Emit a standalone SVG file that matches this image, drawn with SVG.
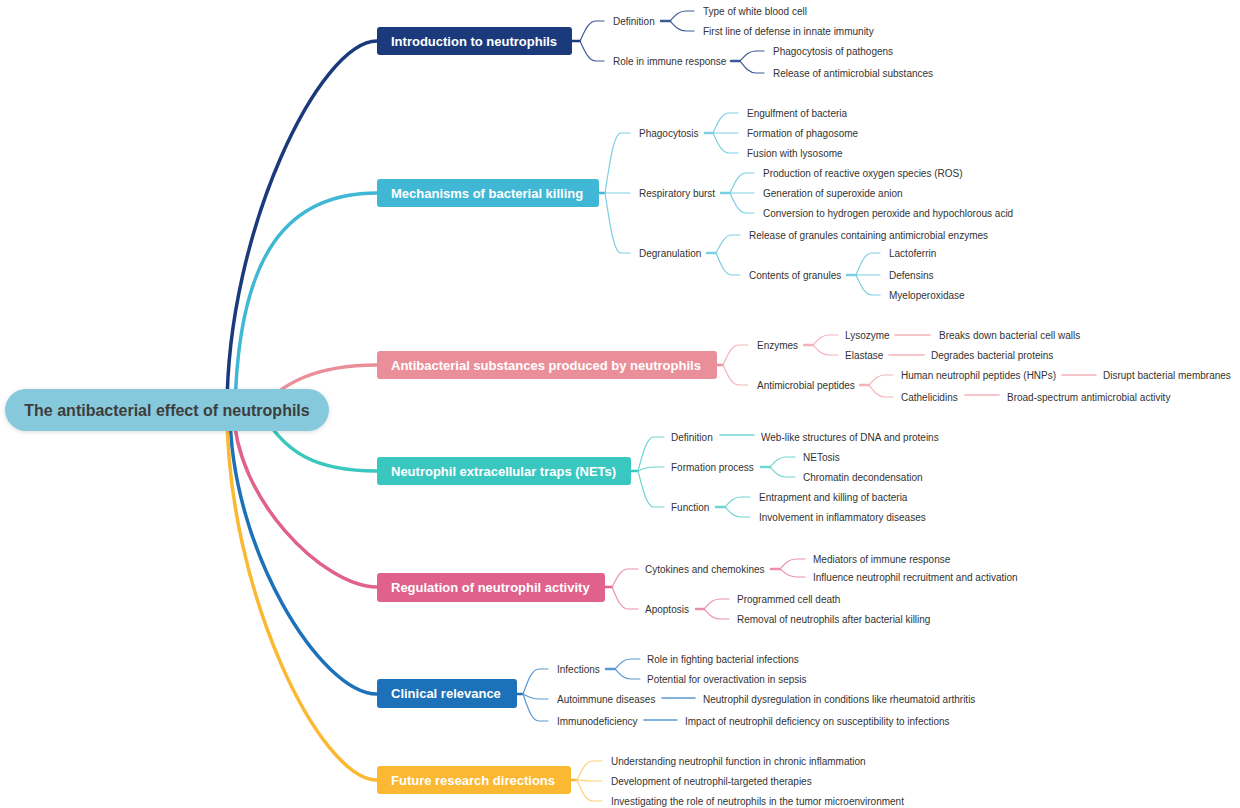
<svg xmlns="http://www.w3.org/2000/svg" width="1240" height="808" viewBox="0 0 1240 808">
<defs>
<filter id="sh" x="-10%" y="-30%" width="120%" height="160%"><feDropShadow dx="0" dy="1" stdDeviation="2" flood-color="#000" flood-opacity="0.15"/></filter>
<style>
.t{font-family:"Liberation Sans",Arial,sans-serif;font-size:10px;fill:#333}
.m{font-family:"Liberation Sans",Arial,sans-serif;font-size:13px;font-weight:bold;fill:#fff}
.r{font-family:"Liberation Sans",Arial,sans-serif;font-size:16px;font-weight:bold;fill:#3d3d3d}
path{fill:none;stroke-linecap:round}
.main{stroke-width:3.5}
.c{stroke-width:1.2}
.s{stroke-width:2.5}
.h{stroke-width:1.6}
.nv{stroke:#1b3a7b}.nvl{stroke:#3d5a96}
.cy{stroke:#40b8d5}.cyl{stroke:#7ccfe3}
.pk{stroke:#ea8f9a}.pkl{stroke:#f3b3ba}
.tl{stroke:#3ac7bf}.tll{stroke:#6fd6cf}
.rg{stroke:#e0628c}.rgl{stroke:#eb8fae}
.bl{stroke:#1c71b8}.bll{stroke:#5b98cf}
.yl{stroke:#fbb833}.yll{stroke:#fcd27c}
</style>
</defs>
<rect width="1240" height="808" fill="#fff"/>
<g id="connectors">
<path class="main nv" d="M227 410 C227 230 320 41 377 41"/>
<path class="main cy" d="M235 410 C238 250 290 193 377 193"/>
<path class="main pk" d="M250 420 C280 380 320 365 377 365"/>
<path class="main tl" d="M258 405 C283 455 318 471 377 471"/>
<path class="main rg" d="M234 410 C234 497 323 587 377 587"/>
<path class="main bl" d="M230 410 C230 549 321 694 377 694"/>
<path class="main yl" d="M227 410 C227 591 320 780 377 780"/>

<!-- Intro -->
<path class="s nv" d="M572 41 L580 41"/>
<path class="c nvl" d="M580 41 C584 33 588 21 596 21 L604 21"/>
<path class="c nvl" d="M580 41 C584 49 588 61 596 61 L604 61"/>
<path class="s nvl" d="M661 21 L670 21"/>
<path class="c nvl" d="M670 21 C674 17 678 11 686 11 L694 11"/>
<path class="c nvl" d="M670 21 C674 25 678 31 686 31 L694 31"/>
<path class="s nvl" d="M731 61 L740 61"/>
<path class="c nvl" d="M740 61 C744 57 748 51 756 51 L764 51"/>
<path class="c nvl" d="M740 61 C744 66 748 73 756 73 L764 73"/>

<!-- Mechanisms -->
<path class="s cy" d="M599 193 L605 193"/>
<path class="c cyl" d="M605 193 C609 169 613 133 621 133 L630 133"/>
<path class="c cyl" d="M605 193 L630 193"/>
<path class="c cyl" d="M605 193 C609 217 613 253 621 253 L630 253"/>
<path class="s cyl" d="M705 133 L713 133"/>
<path class="c cyl" d="M713 133 C717 125 721 113 729 113 L738 113"/>
<path class="c cyl" d="M713 133 L738 133"/>
<path class="c cyl" d="M713 133 C717 141 721 153 729 153 L738 153"/>
<path class="s cyl" d="M721 193 L730 193"/>
<path class="c cyl" d="M730 193 C734 185 738 173 746 173 L754 173"/>
<path class="c cyl" d="M730 193 L754 193"/>
<path class="c cyl" d="M730 193 C734 201 738 213 746 213 L754 213"/>
<path class="s cyl" d="M707 253 L716 253"/>
<path class="c cyl" d="M716 253 C720 246 724 235 732 235 L740 235"/>
<path class="c cyl" d="M716 253 C720 262 724 275 732 275 L740 275"/>
<path class="s cyl" d="M847 275 L856 275"/>
<path class="c cyl" d="M856 275 C860 266 864 253 872 253 L880 253"/>
<path class="c cyl" d="M856 275 L880 275"/>
<path class="c cyl" d="M856 275 C860 283 864 295 872 295 L880 295"/>

<!-- Antibacterial -->
<path class="s pk" d="M717 365 L723 365"/>
<path class="c pkl" d="M723 365 C727 357 731 345 739 345 L748 345"/>
<path class="c pkl" d="M723 365 C727 373 731 385 739 385 L748 385"/>
<path class="s pkl" d="M804 345 L813 345"/>
<path class="c pkl" d="M813 345 C817 341 821 335 829 335 L838 335"/>
<path class="c pkl" d="M813 345 C817 349 821 355 829 355 L838 355"/>
<path class="h pkl" d="M895 335 L930 335"/>
<path class="h pkl" d="M889 355 L924 355"/>
<path class="s pkl" d="M860 385 L869 385"/>
<path class="c pkl" d="M869 385 C873 381 877 375 885 375 L893 375"/>
<path class="c pkl" d="M869 385 C873 390 877 397 885 397 L893 397"/>
<path class="h pkl" d="M1062 375 L1096 375"/>
<path class="h pkl" d="M965 395 L999 395"/>

<!-- NETs -->
<path class="s tl" d="M631 471 L638 471"/>
<path class="c tll" d="M638 471 C642 457 646 437 654 437 L664 437"/>
<path class="c tll" d="M638 471 C642 469 646 467 654 467 L664 467"/>
<path class="c tll" d="M638 471 C642 485 646 507 654 507 L664 507"/>
<path class="h tll" d="M720 435 L754 435"/>
<path class="s tll" d="M761 467 L770 467"/>
<path class="c tll" d="M770 467 C774 463 778 457 786 457 L795 457"/>
<path class="c tll" d="M770 467 C774 471 778 477 786 477 L795 477"/>
<path class="s tll" d="M716 507 L725 507"/>
<path class="c tll" d="M725 507 C729 503 733 497 741 497 L750 497"/>
<path class="c tll" d="M725 507 C729 511 733 517 741 517 L750 517"/>

<!-- Regulation -->
<path class="s rg" d="M605 587 L612 587"/>
<path class="c rgl" d="M612 587 C616 580 620 569 628 569 L638 569"/>
<path class="c rgl" d="M612 587 C616 596 620 609 628 609 L638 609"/>
<path class="s rgl" d="M771 569 L780 569"/>
<path class="c rgl" d="M780 569 C784 565 788 559 796 559 L805 559"/>
<path class="c rgl" d="M780 569 C784 572 788 577 796 577 L805 577"/>
<path class="s rgl" d="M696 609 L704 609"/>
<path class="c rgl" d="M704 609 C708 605 712 599 720 599 L729 599"/>
<path class="c rgl" d="M704 609 C708 613 712 619 720 619 L729 619"/>

<!-- Clinical -->
<path class="s bl" d="M517 694 L523 694"/>
<path class="c bll" d="M523 694 C527 684 531 669 539 669 L548 669"/>
<path class="c bll" d="M523 694 C527 696 531 699 539 699 L548 699"/>
<path class="c bll" d="M523 694 C527 705 531 721 539 721 L548 721"/>
<path class="s bll" d="M606 669 L615 669"/>
<path class="c bll" d="M615 669 C619 665 623 659 631 659 L640 659"/>
<path class="c bll" d="M615 669 C619 673 623 679 631 679 L640 679"/>
<path class="h bll" d="M662 698 L695 698"/>
<path class="h bll" d="M644 720 L677 720"/>

<!-- Future -->
<path class="s yl" d="M571 780 L577 780"/>
<path class="c yll" d="M577 780 C581 772 585 761 593 761 L602 761"/>
<path class="c yll" d="M577 780 C581 780 585 781 593 781 L602 781"/>
<path class="c yll" d="M577 780 C581 789 585 801 593 801 L602 801"/>
</g>

<g id="root"><rect x="5" y="389" width="324" height="42" rx="21" fill="#87c9dc" filter="url(#sh)"/><text class="r" x="167" y="416" text-anchor="middle">The antibacterial effect of neutrophils</text></g>

<g id="n1"><rect x="377" y="27" width="195" height="28" rx="3" fill="#1b3a7b"/><text class="m" x="391" y="45.5">Introduction to neutrophils</text></g>
<g id="n1-1"><text class="t" x="613" y="24.5">Definition</text></g>
<g id="n1-1-1"><text class="t" x="703" y="14.5">Type of white blood cell</text></g>
<g id="n1-1-2"><text class="t" x="703" y="34.5">First line of defense in innate immunity</text></g>
<g id="n1-2"><text class="t" x="613" y="64.5">Role in immune response</text></g>
<g id="n1-2-1"><text class="t" x="773" y="54.5">Phagocytosis of pathogens</text></g>
<g id="n1-2-2"><text class="t" x="773" y="76.5">Release of antimicrobial substances</text></g>

<g id="n2"><rect x="377" y="179" width="222" height="28" rx="3" fill="#40b8d5"/><text class="m" x="391" y="197.5">Mechanisms of bacterial killing</text></g>
<g id="n2-1"><text class="t" x="639" y="136.5">Phagocytosis</text></g>
<g id="n2-1-1"><text class="t" x="747" y="116.5">Engulfment of bacteria</text></g>
<g id="n2-1-2"><text class="t" x="747" y="136.5">Formation of phagosome</text></g>
<g id="n2-1-3"><text class="t" x="747" y="156.5">Fusion with lysosome</text></g>
<g id="n2-2"><text class="t" x="639" y="196.5">Respiratory burst</text></g>
<g id="n2-2-1"><text class="t" x="763" y="176.5">Production of reactive oxygen species (ROS)</text></g>
<g id="n2-2-2"><text class="t" x="763" y="196.5">Generation of superoxide anion</text></g>
<g id="n2-2-3"><text class="t" x="763" y="216.5">Conversion to hydrogen peroxide and hypochlorous acid</text></g>
<g id="n2-3"><text class="t" x="639" y="256.5">Degranulation</text></g>
<g id="n2-3-1"><text class="t" x="749" y="238.5">Release of granules containing antimicrobial enzymes</text></g>
<g id="n2-3-2"><text class="t" x="749" y="278.5">Contents of granules</text></g>
<g id="n2-3-2-1"><text class="t" x="889" y="256.5">Lactoferrin</text></g>
<g id="n2-3-2-2"><text class="t" x="889" y="278.5">Defensins</text></g>
<g id="n2-3-2-3"><text class="t" x="889" y="298.5">Myeloperoxidase</text></g>

<g id="n3"><rect x="377" y="351" width="340" height="28" rx="3" fill="#ea8f9a"/><text class="m" x="391" y="369.5">Antibacterial substances produced by neutrophils</text></g>
<g id="n3-1"><text class="t" x="757" y="348.5">Enzymes</text></g>
<g id="n3-1-1"><text class="t" x="845" y="338.5">Lysozyme</text></g>
<g id="n3-1-1-1"><text class="t" x="939" y="338.5">Breaks down bacterial cell walls</text></g>
<g id="n3-1-2"><text class="t" x="845" y="358.5">Elastase</text></g>
<g id="n3-1-2-1"><text class="t" x="931" y="358.5">Degrades bacterial proteins</text></g>
<g id="n3-2"><text class="t" x="757" y="388.5">Antimicrobial peptides</text></g>
<g id="n3-2-1"><text class="t" x="901" y="378.5">Human neutrophil peptides (HNPs)</text></g>
<g id="n3-2-1-1"><text class="t" x="1103" y="378.5">Disrupt bacterial membranes</text></g>
<g id="n3-2-2"><text class="t" x="901" y="400.5">Cathelicidins</text></g>
<g id="n3-2-2-1"><text class="t" x="1007" y="400.5">Broad-spectrum antimicrobial activity</text></g>

<g id="n4"><rect x="377" y="457" width="254" height="28" rx="3" fill="#3ac7bf"/><text class="m" x="391" y="475.5">Neutrophil extracellular traps (NETs)</text></g>
<g id="n4-1"><text class="t" x="671" y="440.5">Definition</text></g>
<g id="n4-1-1"><text class="t" x="761" y="440.5">Web-like structures of DNA and proteins</text></g>
<g id="n4-2"><text class="t" x="671" y="470.5">Formation process</text></g>
<g id="n4-2-1"><text class="t" x="803" y="460.5">NETosis</text></g>
<g id="n4-2-2"><text class="t" x="803" y="480.5">Chromatin decondensation</text></g>
<g id="n4-3"><text class="t" x="671" y="510.5">Function</text></g>
<g id="n4-3-1"><text class="t" x="759" y="500.5">Entrapment and killing of bacteria</text></g>
<g id="n4-3-2"><text class="t" x="759" y="520.5">Involvement in inflammatory diseases</text></g>

<g id="n5"><rect x="377" y="573" width="228" height="29" rx="3" fill="#e0628c"/><text class="m" x="391" y="592">Regulation of neutrophil activity</text></g>
<g id="n5-1"><text class="t" x="645" y="572.5">Cytokines and chemokines</text></g>
<g id="n5-1-1"><text class="t" x="813" y="562.5">Mediators of immune response</text></g>
<g id="n5-1-2"><text class="t" x="813" y="580.5">Influence neutrophil recruitment and activation</text></g>
<g id="n5-2"><text class="t" x="645" y="612.5">Apoptosis</text></g>
<g id="n5-2-1"><text class="t" x="737" y="602.5">Programmed cell death</text></g>
<g id="n5-2-2"><text class="t" x="737" y="622.5">Removal of neutrophils after bacterial killing</text></g>

<g id="n6"><rect x="377" y="679" width="140" height="29" rx="3" fill="#1c71b8"/><text class="m" x="391" y="698">Clinical relevance</text></g>
<g id="n6-1"><text class="t" x="557" y="672.5">Infections</text></g>
<g id="n6-1-1"><text class="t" x="647" y="662.5">Role in fighting bacterial infections</text></g>
<g id="n6-1-2"><text class="t" x="647" y="682.5">Potential for overactivation in sepsis</text></g>
<g id="n6-2"><text class="t" x="557" y="702.5">Autoimmune diseases</text></g>
<g id="n6-2-1"><text class="t" x="703" y="702.5">Neutrophil dysregulation in conditions like rheumatoid arthritis</text></g>
<g id="n6-3"><text class="t" x="557" y="724.5">Immunodeficiency</text></g>
<g id="n6-3-1"><text class="t" x="685" y="724.5">Impact of neutrophil deficiency on susceptibility to infections</text></g>

<g id="n7"><rect x="377" y="766" width="194" height="28" rx="3" fill="#fbb833"/><text class="m" x="391" y="784.5">Future research directions</text></g>
<g id="n7-1"><text class="t" x="611" y="764.5">Understanding neutrophil function in chronic inflammation</text></g>
<g id="n7-2"><text class="t" x="611" y="784.5">Development of neutrophil-targeted therapies</text></g>
<g id="n7-3"><text class="t" x="611" y="804.5">Investigating the role of neutrophils in the tumor microenvironment</text></g>
</svg>
